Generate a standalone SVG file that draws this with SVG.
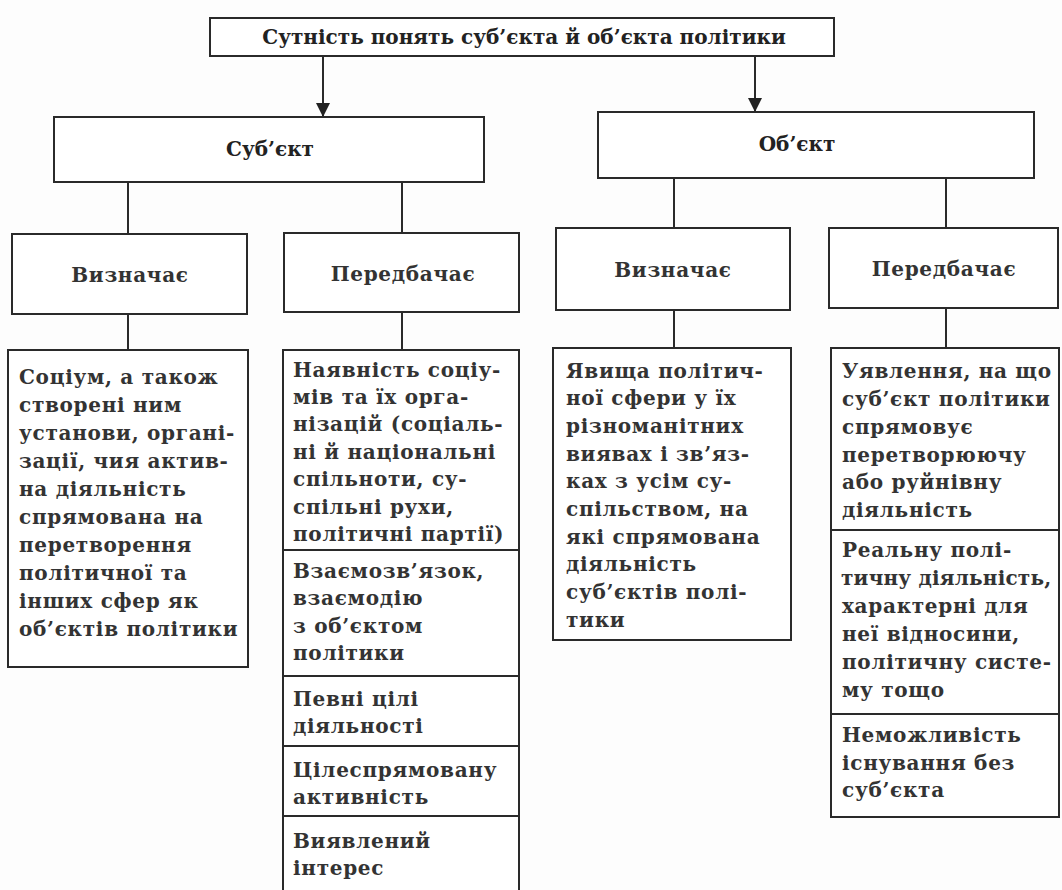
<svg xmlns="http://www.w3.org/2000/svg" width="1062" height="890" viewBox="0 0 1062 890">
<style>
.box{fill:#fff;stroke:#2a2a2a;stroke-width:2}
.ln{stroke:#2a2a2a;stroke-width:2;fill:none}
.t{font-family:"DejaVu Serif",serif;font-size:20px;font-weight:bold;letter-spacing:0.7px;fill:#333}
.h{font-family:"DejaVu Serif",serif;font-size:20px;font-weight:bold;letter-spacing:0.7px;fill:#333;text-anchor:middle}
.b{font-family:"DejaVu Serif",serif;font-size:20px;font-weight:bold;fill:#222;text-anchor:middle}
</style>
<defs>
<marker id="arr" viewBox="0 0 14 20" refX="14" refY="7" markerWidth="14" markerHeight="20" markerUnits="userSpaceOnUse" orient="auto">
<path d="M0,0 L14,7 L0,14 Z" fill="#222"/>
</marker>
</defs>
<rect width="1062" height="890" fill="#fdfdfd"/>
<g id="connectors">
<line class="ln" x1="323" y1="56" x2="323" y2="117" marker-end="url(#arr)"/>
<line class="ln" x1="755" y1="56" x2="755" y2="112" marker-end="url(#arr)"/>
<line class="ln" x1="128" y1="182" x2="128" y2="234"/>
<line class="ln" x1="402" y1="182" x2="402" y2="233"/>
<line class="ln" x1="674" y1="178" x2="674" y2="228"/>
<line class="ln" x1="946" y1="178" x2="946" y2="228"/>
<line class="ln" x1="128" y1="314" x2="128" y2="350"/>
<line class="ln" x1="402" y1="312" x2="402" y2="350"/>
<line class="ln" x1="674" y1="310" x2="674" y2="348"/>
<line class="ln" x1="946" y1="308" x2="946" y2="348"/>
</g>
<g id="title">
<rect class="box" x="210" y="18" width="624" height="38"/>
<text class="b" x="524" y="44">Сутність понять суб’єкта й об’єкта політики</text>
</g>
<g id="subject">
<rect class="box" x="54" y="117" width="430" height="65"/>
<text class="b" x="270" y="156">Суб’єкт</text>
</g>
<g id="object">
<rect class="box" x="598" y="112" width="436" height="66"/>
<text class="b" x="797" y="151">Об’єкт</text>
</g>
<g id="subj-defines">
<rect class="box" x="12" y="234" width="235" height="80"/>
<text class="h" x="130" y="282">Визначає</text>
</g>
<g id="subj-provides">
<rect class="box" x="284" y="233" width="235" height="79"/>
<text class="h" x="403" y="281">Передбачає</text>
</g>
<g id="obj-defines">
<rect class="box" x="556" y="228" width="234" height="82"/>
<text class="h" x="673" y="277">Визначає</text>
</g>
<g id="obj-provides">
<rect class="box" x="829" y="228" width="229" height="80"/>
<text class="h" x="944" y="276">Передбачає</text>
</g>
<g id="subj-defines-content">
<rect class="box" x="8" y="350" width="240" height="317"/>
<text class="t" x="19" y="384">Соціум, а також</text>
<text class="t" x="19" y="412">створені ним</text>
<text class="t" x="19" y="440">установи, органі-</text>
<text class="t" x="19" y="468">зації, чия актив-</text>
<text class="t" x="19" y="496">на діяльність</text>
<text class="t" x="19" y="524">спрямована на</text>
<text class="t" x="19" y="552">перетворення</text>
<text class="t" x="19" y="580">політичної та</text>
<text class="t" x="19" y="608">інших сфер як</text>
<text class="t" x="19" y="636">об’єктів політики</text>
</g>
<g id="subj-provides-content">
<rect class="box" x="283" y="350" width="236" height="560"/>
<line class="ln" x1="283" y1="550" x2="519" y2="550"/>
<line class="ln" x1="283" y1="676" x2="519" y2="676"/>
<line class="ln" x1="283" y1="746" x2="519" y2="746"/>
<line class="ln" x1="283" y1="816" x2="519" y2="816"/>
<text class="t" x="293" y="377">Наявність соціу-</text>
<text class="t" x="293" y="404">мів та їх орга-</text>
<text class="t" x="293" y="431">нізацій (соціаль-</text>
<text class="t" x="293" y="459">ні й національні</text>
<text class="t" x="293" y="486">спільноти, су-</text>
<text class="t" x="293" y="514">спільні рухи,</text>
<text class="t" x="293" y="541">політичні партії)</text>
<text class="t" x="293" y="578">Взаємозв’язок,</text>
<text class="t" x="293" y="605">взаємодію</text>
<text class="t" x="293" y="633">з об’єктом</text>
<text class="t" x="293" y="660">політики</text>
<text class="t" x="293" y="706">Певні цілі</text>
<text class="t" x="293" y="733">діяльності</text>
<text class="t" x="293" y="777">Цілеспрямовану</text>
<text class="t" x="293" y="804">активність</text>
<text class="t" x="293" y="848">Виявлений</text>
<text class="t" x="293" y="875">інтерес</text>
</g>
<g id="obj-defines-content">
<rect class="box" x="553" y="348" width="238" height="292"/>
<text class="t" x="566" y="378">Явища політич-</text>
<text class="t" x="566" y="405">ної сфери у їх</text>
<text class="t" x="566" y="433">різноманітних</text>
<text class="t" x="566" y="461">виявах і зв’яз-</text>
<text class="t" x="566" y="488">ках з усім су-</text>
<text class="t" x="566" y="516">спільством, на</text>
<text class="t" x="566" y="544">які спрямована</text>
<text class="t" x="566" y="571">діяльність</text>
<text class="t" x="566" y="599">суб’єктів полі-</text>
<text class="t" x="566" y="627">тики</text>
</g>
<g id="obj-provides-content">
<rect class="box" x="831" y="348" width="228" height="469"/>
<line class="ln" x1="831" y1="530" x2="1059" y2="530"/>
<line class="ln" x1="831" y1="714" x2="1059" y2="714"/>
<text class="t" x="842" y="378">Уявлення, на що</text>
<text class="t" x="842" y="406">суб’єкт політики</text>
<text class="t" x="842" y="434">спрямовує</text>
<text class="t" x="842" y="462">перетворюючу</text>
<text class="t" x="842" y="489">або руйнівну</text>
<text class="t" x="842" y="517">діяльність</text>
<text class="t" x="842" y="557">Реальну полі-</text>
<text class="t" x="841" y="585" style="letter-spacing:0.2px">тичну діяльність,</text>
<text class="t" x="842" y="613">характерні для</text>
<text class="t" x="842" y="641">неї відносини,</text>
<text class="t" x="842" y="669">політичну систе-</text>
<text class="t" x="842" y="697">му тощо</text>
<text class="t" x="842" y="742">Неможливість</text>
<text class="t" x="842" y="770">існування без</text>
<text class="t" x="842" y="797">суб’єкта</text>
</g>
</svg>
